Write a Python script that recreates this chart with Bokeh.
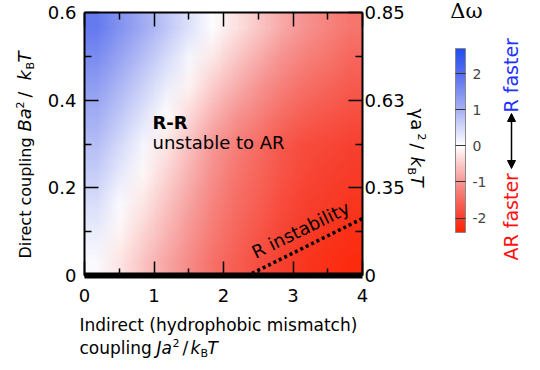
import base64
import struct
import zlib

import numpy as np
from bokeh.plotting import figure
from bokeh.models import (Range1d, LinearAxis, FixedTicker, LinearColorMapper,
                          ColorBar, Label, Arrow, NormalHead)
from bokeh.embed import file_html
from bokeh.resources import INLINE

# ---------------- data ----------------
# delta omega read at the centres of a 12 x 9 grid of cells over J in [0,4], B in [0,0.6]
J_centres = [0.167, 0.5, 0.833, 1.167, 1.5, 1.833, 2.167, 2.5, 2.833, 3.167, 3.5, 3.833]
B_centres = [0.033, 0.1, 0.167, 0.233, 0.3, 0.367, 0.433, 0.5, 0.567]
domega_row1 = [0.07, -0.25, -0.55, -0.84, -1.12, -1.41, -1.64, -1.81, -1.98, -2.11, -2.19, -2.27]
domega_row2 = [0.24, -0.10, -0.40, -0.70, -1.00, -1.30, -1.54, -1.73, -1.91, -2.04, -2.12, -2.19]
domega_row3 = [0.43, 0.07, -0.24, -0.55, -0.87, -1.19, -1.45, -1.64, -1.84, -1.97, -2.04, -2.12]
domega_row4 = [0.63, 0.27, -0.07, -0.39, -0.74, -1.08, -1.35, -1.56, -1.76, -1.90, -1.97, -2.04]
domega_row5 = [0.84, 0.48, 0.13, -0.23, -0.60, -0.97, -1.26, -1.48, -1.69, -1.83, -1.90, -1.97]
domega_row6 = [1.06, 0.71, 0.35, -0.01, -0.36, -0.72, -1.01, -1.24, -1.47, -1.64, -1.73, -1.82]
domega_row7 = [1.30, 0.94, 0.59, 0.23, -0.12, -0.47, -0.76, -1.01, -1.26, -1.44, -1.56, -1.67]
domega_row8 = [1.55, 1.19, 0.83, 0.48, 0.12, -0.22, -0.51, -0.78, -1.04, -1.24, -1.38, -1.53]
domega_row9 = [1.81, 1.45, 1.09, 0.74, 0.38, 0.02, -0.27, -0.54, -0.82, -1.04, -1.21, -1.38]

instab_J = [0.0, 2.35, 4.0]
instab_B = [0.0, 0.0, 0.13]

x_ticks = [0, 1, 2, 3, 4]
x_minor = [0.5, 1.5, 2.5, 3.5]
y_ticks = [0, 0.2, 0.4, 0.6]
y_minor = [0.1, 0.3, 0.5]
y_tick_labels = ["0", "0.2", "0.4", "0.6"]
gamma_tick_labels = ["0", "0.35", "0.63", "0.85"]
cbar_ticks = [-2, -1, 0, 1, 2]
cbar_tick_labels = ["-2", "-1", "0", "1", "2"]
cbar_low, cbar_high = -2.4, 2.7
J_min, J_max = 0.0, 4.0
B_min, B_max = 0.0, 0.6

# ---------------- style / layout ----------------
FONT = "DejaVu Sans"
FL, FR, FT, FB = 84, 362, 12, 275      # pixel box of the heat map
W, H = 540, 370
sxu = (FR - FL) / (J_max - J_min)
syu = (FB - FT) / (B_max - B_min)
x_range = Range1d(J_min - FL / sxu, J_max + (W - FR) / sxu)
y_range = Range1d(B_min - (H - FB) / syu, B_max + FT / syu)

# palette (style): red -> white -> blue
anchors_v = [cbar_low, -2.0, -1.0, 0.0, 1.0, 2.0, cbar_high]
anchors_c = [(255, 35, 0), (247, 62, 45), (246, 150, 148), (255, 255, 255),
             (168, 178, 244), (88, 110, 238), (35, 78, 240)]
vv = np.linspace(cbar_low, cbar_high, 256)
cols = np.array(anchors_c, dtype=float)
pal_rgb = np.stack([np.interp(vv, anchors_v, cols[:, k]) for k in range(3)], axis=1)
pal_rgb = np.round(pal_rgb).astype(np.uint8)
pal = ["#%02x%02x%02x" % tuple(c) for c in pal_rgb]
mapper = LinearColorMapper(palette=pal, low=cbar_low, high=cbar_high)


def map_colours(values):
    v = np.asarray(values, dtype=float)
    idx = np.floor((v - cbar_low) / (cbar_high - cbar_low) * len(pal)).astype(int)
    idx = np.clip(idx, 0, len(pal) - 1)
    return pal_rgb[idx]


def png_data_url(rgb):
    h, w, _ = rgb.shape
    raw = b"".join(b"\x00" + np.ascontiguousarray(rgb[i]).tobytes() for i in range(h))

    def chunk(tag, data):
        return (struct.pack(">I", len(data)) + tag + data +
                struct.pack(">I", zlib.crc32(tag + data) & 0xffffffff))
    png = (b"\x89PNG\r\n\x1a\n" +
           chunk(b"IHDR", struct.pack(">IIBBBBB", w, h, 8, 2, 0, 0, 0)) +
           chunk(b"IDAT", zlib.compress(raw, 9)) + chunk(b"IEND", b""))
    return "data:image/png;base64," + base64.b64encode(png).decode()


p = figure(width=W, height=H, output_backend="svg", toolbar_location=None,
           x_range=x_range, y_range=y_range, min_border=0,
           x_axis_location=None, y_axis_location=None)
p.grid.visible = False
p.outline_line_color = None
p.background_fill_color = "white"
p.border_fill_color = "white"

grid = np.array([domega_row1, domega_row2, domega_row3, domega_row4, domega_row5,
                 domega_row6, domega_row7, domega_row8, domega_row9])
rgb = map_colours(grid[::-1])          # top row of the picture first
p.image_url(url=[png_data_url(rgb)], x=J_min, y=B_max, w=J_max - J_min,
            h=B_max - B_min, anchor="top_left")

p.line(instab_J, instab_B, line_color="black", line_width=3.5, line_dash="3 3")


def style_axis(ax, labels=True):
    ax.axis_line_color = "black"
    ax.axis_line_width = 2
    ax.major_tick_in = 14
    ax.major_tick_out = 0
    ax.minor_tick_in = 7
    ax.minor_tick_out = 0
    ax.major_tick_line_color = "black"
    ax.minor_tick_line_color = "black"
    ax.major_tick_line_width = 1.5
    ax.minor_tick_line_width = 1.5
    ax.major_label_text_font = FONT
    ax.major_label_text_font_size = "18px"
    ax.major_label_text_color = "black" if labels else None


xb = LinearAxis(ticker=FixedTicker(ticks=x_ticks, minor_ticks=x_minor),
                fixed_location=B_min, bounds=(J_min, J_max))
style_axis(xb)
xb.axis_line_width = 6
xb.major_label_standoff = 13
p.add_layout(xb, "below")

xt = LinearAxis(ticker=FixedTicker(ticks=x_ticks, minor_ticks=x_minor),
                fixed_location=B_max, bounds=(J_min, J_max))
style_axis(xt, labels=False)
p.add_layout(xt, "above")

yl = LinearAxis(ticker=FixedTicker(ticks=y_ticks, minor_ticks=y_minor),
                fixed_location=J_min, bounds=(B_min, B_max))
style_axis(yl)
yl.major_label_overrides = {t: s for t, s in zip(y_ticks, y_tick_labels)}
yl.major_label_standoff = 8
p.add_layout(yl, "left")

yr = LinearAxis(ticker=FixedTicker(ticks=y_ticks, minor_ticks=y_minor),
                fixed_location=J_max, bounds=(B_min, B_max))
style_axis(yr)
yr.major_label_overrides = {t: s for t, s in zip(y_ticks, gamma_tick_labels)}
yr.major_label_standoff = 2
p.add_layout(yr, "right")

cb = ColorBar(color_mapper=mapper, location=(455, H - 232), width=10,
              height=184, padding=0, ticker=FixedTicker(ticks=cbar_ticks),
              major_label_overrides={t: s for t, s in zip(cbar_ticks, cbar_tick_labels)},
              major_label_text_font=FONT, major_label_text_font_size="14px",
              label_standoff=7, major_tick_in=10, major_tick_out=0,
              major_tick_line_color="#333333", bar_line_color="#888888",
              background_fill_alpha=0, border_line_color=None)
p.add_layout(cb)


# ---------------- text helpers ----------------
def label(sx, sy, text, size, angle=0.0, style="normal", color="black",
          font=FONT, align="left"):
    """(sx, sy): baseline start in picture pixels (y down)."""
    up_x, up_y = -np.sin(angle), -np.cos(angle)
    k = 0.33 * size                     # baseline correction of the renderer
    sx, sy = sx + k * up_x, sy + k * up_y
    p.add_layout(Label(x=sx, y=H - sy, x_units="screen", y_units="screen",
                       text=text, angle=angle,
                       text_font=font, text_font_size="%gpx" % size,
                       text_font_style=style, text_color=color,
                       text_align=align, text_baseline="alphabetic"))


def rich(base, angle, pieces):
    """pieces: (text, size, style, position along the line, shift up)."""
    up_x, up_y = -np.sin(angle), -np.cos(angle)
    for text, size, style, along, shift in pieces:
        if abs(angle) < 1e-6:
            sx, sy = along, base
        else:
            sx, sy = base, along
        label(sx + shift * up_x, sy + shift * up_y, text, size, angle, style)


# left axis title (reads upwards)
rich(30, np.pi / 2, [("Direct coupling", 16, "normal", 258, 0),
                     ("Ba", 18, "italic", 131, 0),
                     ("2", 11, "normal", 108, 7),
                     ("/", 17, "normal", 97, 0),
                     ("k", 18, "italic", 80, 0),
                     ("B", 11, "normal", 69, -3.5),
                     ("T", 18, "italic", 62, 0)])

# bottom axis title
label(79, 330, "Indirect (hydrophobic mismatch)", 17)
rich(353, 0.0, [("coupling", 17, "normal", 79, 0),
                ("Ja", 17, "italic", 156, 0),
                ("2", 11, "normal", 172, 7),
                ("/", 17, "normal", 182, 0),
                ("k", 17, "italic", 190, 0),
                ("B", 11, "normal", 200, -3.5),
                ("T", 17, "italic", 207, 0)])

# right axis title (reads downwards)
rich(411, -np.pi / 2, [("γa", 18, "normal", 108, 0),
                       ("2", 11, "normal", 133, 7),
                       ("/", 17, "normal", 143, 0),
                       ("k", 18, "italic", 156, 0),
                       ("B", 11, "normal", 167, -3.5),
                       ("T", 18, "italic", 175, 0)])

# annotations inside plot
label(152, 128, "R-R", 18, style="bold")
label(152, 148, "unstable to AR", 18)
label(255, 258, "R instability", 18, angle=np.deg2rad(26))

# colour bar title and side notes
label(466, 17, "Δω", 21, font="DejaVu Serif", align="center")
label(517, 112, "R faster", 19, angle=np.pi / 2, color="#2233ff")
label(517, 260, "AR faster", 19, angle=np.pi / 2, color="#ff1111")
p.add_layout(Arrow(x_start=511, y_start=H - 168, x_end=511, y_end=H - 113,
                   start_units="screen", end_units="screen",
                   line_width=1.5, line_color="black",
                   start=NormalHead(size=8, fill_color="black", line_color="black"),
                   end=NormalHead(size=8, fill_color="black", line_color="black")))

open("out.html", "w").write(file_html(p, INLINE))
